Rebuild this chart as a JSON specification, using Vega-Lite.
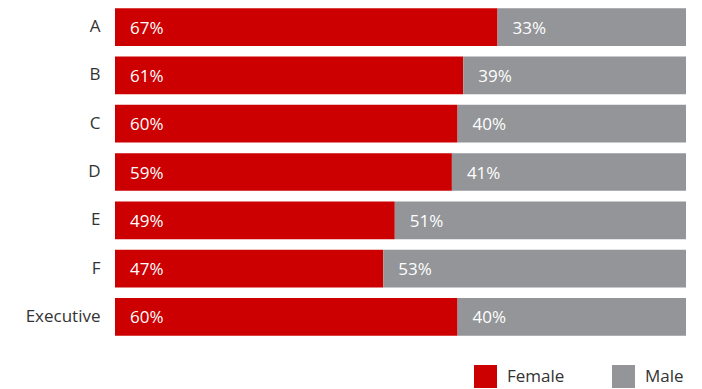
{
  "$schema": "https://vega.github.io/schema/vega-lite/v6.json",
  "width": 571,
  "height": 344,
  "autosize": "none",
  "padding": {"left": 115, "top": 0, "right": 16, "bottom": 45},
  "config": {"view": {"stroke": null}, "font": "Open Sans"},
  "data": {
    "values": [
      {"cat": "A", "sex": "Female", "value": 0.67},
      {"cat": "A", "sex": "Male", "value": 0.33},
      {"cat": "B", "sex": "Female", "value": 0.61},
      {"cat": "B", "sex": "Male", "value": 0.39},
      {"cat": "C", "sex": "Female", "value": 0.60},
      {"cat": "C", "sex": "Male", "value": 0.40},
      {"cat": "D", "sex": "Female", "value": 0.59},
      {"cat": "D", "sex": "Male", "value": 0.41},
      {"cat": "E", "sex": "Female", "value": 0.49},
      {"cat": "E", "sex": "Male", "value": 0.51},
      {"cat": "F", "sex": "Female", "value": 0.47},
      {"cat": "F", "sex": "Male", "value": 0.53},
      {"cat": "Executive", "sex": "Female", "value": 0.60},
      {"cat": "Executive", "sex": "Male", "value": 0.40}
    ]
  },
  "transform": [
    {"stack": "value", "groupby": ["cat"], "sort": [{"field": "sex", "order": "ascending"}], "as": ["x0", "x1"]}
  ],
  "encoding": {
    "y": {
      "field": "cat",
      "type": "nominal",
      "sort": ["A", "B", "C", "D", "E", "F", "Executive"],
      "scale": {"paddingInner": 0.22, "paddingOuter": 0.17},
      "axis": {
        "title": null,
        "domain": false,
        "ticks": false,
        "labelPadding": 15,
        "labelFontSize": 17,
        "labelColor": "#333333",
        "labelFont": "Open Sans"
      }
    }
  },
  "layer": [
    {
      "mark": {"type": "bar"},
      "encoding": {
        "x": {"field": "x0", "type": "quantitative", "scale": {"domain": [0, 1]}, "axis": null},
        "x2": {"field": "x1"},
        "color": {
          "field": "sex",
          "type": "nominal",
          "scale": {"domain": ["Female", "Male"], "range": ["#cc0000", "#939598"]},
          "legend": {
            "title": null,
            "orient": "none",
            "legendX": 359,
            "legendY": 365,
            "direction": "horizontal",
            "symbolType": "square",
            "symbolSize": 529,
            "symbolStrokeWidth": 0,
            "symbolOpacity": 1,
            "labelFontSize": 17,
            "labelColor": "#333333",
            "labelOffset": 10,
            "columnPadding": 47,
            "labelFont": "Open Sans"
          }
        }
      }
    },
    {
      "mark": {"type": "text", "align": "left", "baseline": "middle", "dx": 15, "dy": 1.5, "color": "white", "fontSize": 17, "fontWeight": 500},
      "encoding": {
        "x": {"field": "x0", "type": "quantitative"},
        "text": {"field": "value", "type": "quantitative", "format": ".0%"}
      }
    }
  ]
}
